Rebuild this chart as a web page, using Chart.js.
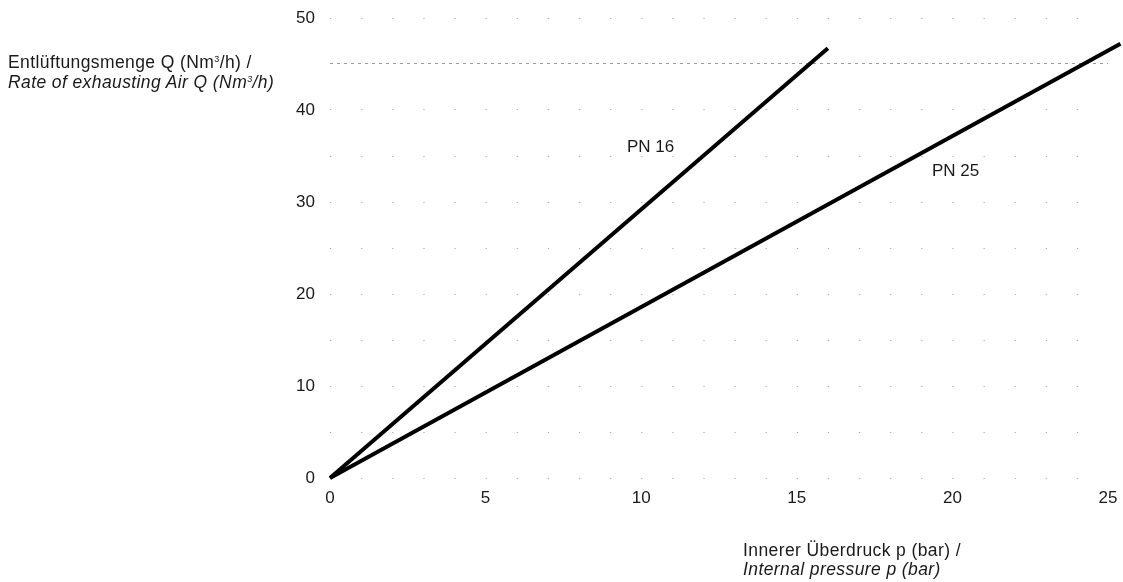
<!DOCTYPE html>
<html>
<head>
<meta charset="utf-8">
<script src="https://cdn.jsdelivr.net/npm/chart.js@4/dist/chart.umd.min.js"></script>
<style>
  html, body { margin: 0; padding: 0; background: #fff; }
  #wrap { position: relative; width: 1123px; height: 582px; }
  #c { position: absolute; left: 0; top: 0; }
  .ttl { position: absolute; font-family: "Liberation Sans", Arial, sans-serif; font-size: 17.5px; letter-spacing: 0.4px; line-height: 20px; color: #1a1a1a; white-space: nowrap; }
  .ttl i { font-style: italic; }
  .ttl sup { font-size: 9px; vertical-align: 6px; line-height: 0; }
</style>
</head>
<body>
<div id="wrap">
  <canvas id="c" width="1123" height="582"></canvas>
  <div class="ttl" id="ytitle" style="left:8px; top:52px;">Entlüftungsmenge Q (Nm<sup>3</sup>/h) /<br><i>Rate of exhausting Air Q (Nm<sup>3</sup>/h)</i></div>
  <div class="ttl" id="xtitle" style="left:743px; top:541px; line-height:19px;">Innerer Überdruck p (bar) /<br><i>Internal pressure p (bar)</i></div>
</div>
<script>
// ---- data ----
const seriesNames = ["PN 16", "PN 25"];
const pressurePN16 = [0, 16.0];
const flowPN16 = [0, 46.7];
const pressurePN25 = [0, 25.4];
const flowPN25 = [0, 47.2];
const xTicks = [0, 5, 10, 15, 20, 25];
const yTicks = [0, 10, 20, 30, 40, 50];
const labelPressure = [10.3, 20.1];
const labelFlow = [35.9, 33.3];

const toPoints = (xs, ys) => xs.map((x, i) => ({ x: x, y: ys[i] }));

const labelPlugin = {
  id: 'seriesLabels',
  afterDatasetsDraw(chart) {
    const { ctx, scales } = chart;
    ctx.save();
    ctx.font = '17px "Liberation Sans", Arial, sans-serif';
    ctx.fillStyle = '#1a1a1a';
    ctx.textAlign = 'center';
    ctx.textBaseline = 'middle';
    seriesNames.forEach((name, i) => {
      ctx.fillText(name, scales.x.getPixelForValue(labelPressure[i]), scales.y.getPixelForValue(labelFlow[i]));
    });
    ctx.restore();
  }
};

const tickFont = { family: '"Liberation Sans", Arial, sans-serif', size: 17 };

new Chart(document.getElementById('c'), {
  type: 'scatter',
  data: {
    datasets: [
      { label: seriesNames[0], data: toPoints(pressurePN16, flowPN16), showLine: true, borderColor: '#000', borderWidth: 4, pointRadius: 0, clip: false, borderCapStyle: 'butt' },
      { label: seriesNames[1], data: toPoints(pressurePN25, flowPN25), showLine: true, borderColor: '#000', borderWidth: 4, pointRadius: 0, clip: false, borderCapStyle: 'butt' }
    ]
  },
  options: {
    responsive: false,
    animation: false,
    layout: { padding: { left: 0, right: 15, top: 18, bottom: 0 } },
    plugins: { legend: { display: false }, tooltip: { enabled: false } },
    scales: {
      x: {
        type: 'linear', min: xTicks[0], max: xTicks[xTicks.length - 1],
        afterBuildTicks: (s) => { s.ticks = xTicks.map(v => ({ value: v })); },
        afterFit: (s) => { s.height = 104; s.paddingLeft = 0; s.paddingRight = 0; },
        grid: { display: false },
        border: { display: false },
        ticks: { font: tickFont, color: '#1a1a1a', padding: 2, maxRotation: 0 }
      },
      y: {
        type: 'linear', min: yTicks[0], max: yTicks[yTicks.length - 1],
        ticks: {
          stepSize: 5, font: tickFont, color: '#1a1a1a', padding: 15,
          callback: (v) => (yTicks.includes(v) ? String(v) : '')
        },
        afterFit: (s) => { s.width = 330; s.paddingTop = 0; s.paddingBottom = 0; },
        grid: {
          drawTicks: false,
          color: (c) => (c.tick && c.tick.value === 45 ? '#9a9a9a' : '#a8a8a8'),
          lineWidth: 1
        },
        border: {
          display: false,
          dash: (c) => {
            const xs = c.chart.scales.x;
            const unit = xs ? Math.abs(xs.getPixelForValue(1) - xs.getPixelForValue(0)) : 31;
            if (c.tick && c.tick.value === 45) return [3, 4];
            return [1.2, unit - 1.2];
          }
        }
      }
    }
  },
  plugins: [labelPlugin]
});
</script>
</body>
</html>
